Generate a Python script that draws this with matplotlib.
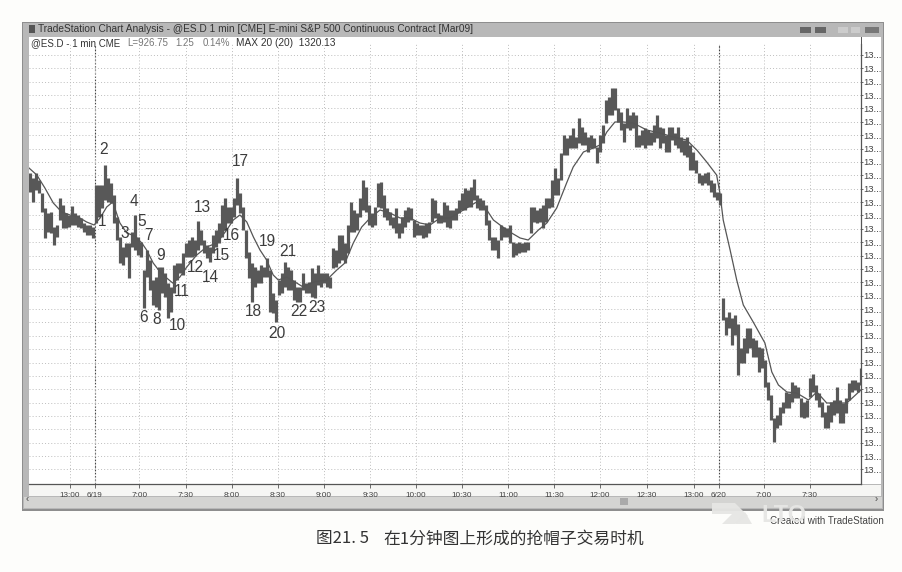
import numpy as np
import matplotlib
matplotlib.use("Agg")
import matplotlib.pyplot as plt
from matplotlib.patches import Rectangle, Polygon

plt.rcParams.update({"font.family": ["Liberation Sans", "DejaVu Sans"]})

# ES quotes, as quarter-point ticks above 1300, one pair per 2-minute group
high_ticks = [
    311, 306, 311, 304, 291, 276, 271, 272, 257, 259, 286, 279, 271, 269, 278, 271, 269, 266, 261, 259,
    259, 257, 299, 299, 299, 319, 306, 301, 289, 267, 247, 237, 241, 241, 252, 269, 247, 242, 214, 234,
    224, 204, 207, 217, 217, 211, 201, 197, 219, 221, 221, 231, 241, 244, 247, 244, 263, 254, 244, 239,
    237, 249, 254, 261, 279, 286, 277, 277, 286, 306, 291, 277, 254, 232, 221, 217, 214, 219, 217, 226,
    214, 191, 184, 204, 211, 222, 217, 214, 204, 197, 197, 211, 201, 202, 216, 211, 219, 211, 211, 211,
    207, 236, 234, 249,
    249, 241, 259, 282, 274, 271, 286, 304, 297, 279, 271, 277, 301, 302, 289, 276, 272, 267, 276, 261,
    267, 274, 277, 276, 264, 261, 259, 259, 261, 262, 286, 284, 271, 269, 282, 279, 274, 274, 276, 284,
    291, 296, 294, 297, 305, 289, 286, 284, 279, 264, 247, 247, 244, 259, 257, 256, 259, 242, 241, 242,
    241, 242, 242, 277, 277, 274, 276, 279, 286, 286, 304, 316, 306, 331,
    349, 346, 349, 356, 347, 366, 357, 352, 347, 349, 346, 337, 349, 359, 384, 387, 396, 396, 376, 372,
    361, 376, 369, 372, 369, 349, 354, 356, 354, 352, 359, 369, 357, 356, 349, 357, 357, 351, 357, 347,
    344, 347, 339, 332, 324, 311, 309, 311, 312, 304, 301, 292, 291,
    186, 167, 172, 166, 169, 160, 136, 146, 156, 156, 146, 144, 137, 136, 124, 102, 89, 66, 69, 77,
    82, 92, 91, 102, 99, 97, 86, 82, 84, 106, 110, 99, 91, 82, 72, 79, 82, 84, 97, 84,
    81, 86, 101, 104, 104, 102, 116,
]
low_ticks = [
    292, 282, 294, 291, 272, 246, 252, 251, 239, 247, 264, 256, 256, 257, 259, 259, 257, 256, 252, 249,
    249, 246, 261, 267, 276, 284, 282, 281, 261, 244, 221, 219, 227, 206, 237, 234, 229, 227, 176, 207,
    194, 179, 177, 174, 191, 187, 166, 172, 191, 204, 211, 209, 227, 227, 227, 228, 234, 239, 231, 226,
    222, 231, 237, 241, 247, 254, 261, 261, 267, 279, 271, 254, 226, 206, 182, 197, 201, 201, 207, 207,
    172, 171, 162, 189, 191, 197, 194, 194, 184, 182, 182, 194, 191, 191, 187, 186, 199, 197, 201, 197,
    196, 216, 217, 221,
    224, 221, 231, 252, 252, 254, 267, 274, 272, 259, 257, 259, 277, 276, 267, 264, 259, 256, 251, 246,
    251, 257, 262, 264, 247, 249, 249, 246, 247, 251, 262, 266, 261, 261, 262, 257, 256, 264, 264, 271,
    274, 274, 277, 277, 284, 276, 274, 274, 259, 244, 234, 234, 226, 244, 247, 247, 241, 227, 229, 231,
    232, 232, 234, 251, 262, 261, 262, 256, 262, 276, 277, 289, 289, 304,
    329, 329, 336, 336, 336, 341, 339, 339, 332, 336, 336, 321, 332, 341, 361, 369, 369, 374, 362, 354,
    342, 356, 354, 356, 337, 337, 339, 336, 339, 339, 342, 346, 336, 341, 332, 332, 344, 339, 336, 332,
    329, 327, 314, 314, 311, 301, 299, 301, 299, 292, 287, 284, 279,
    164, 149, 156, 139, 149, 109, 121, 121, 131, 136, 127, 127, 112, 116, 97, 84, 64, 42, 56, 59,
    71, 76, 76, 82, 86, 86, 67, 66, 67, 87, 92, 84, 77, 67, 56, 56, 62, 69, 71, 61,
    61, 71, 84, 92, 94, 92, 99,
]

# 20 period moving average, same units, taken at the bends of the line
ma_bar = [
    0, 2.6, 5.3, 8.1, 10.9, 13.7, 16.4, 19.2, 21.7, 23.7, 25.9, 27.9, 30.3, 32.6, 35.3, 37.6, 39.2, 41.4,
    43.7, 45.9, 47.9, 50.3, 52.6, 55.9, 59.2, 62.6, 65.9, 68.1, 70.3, 72.6, 74.8, 77, 79.2, 81.4, 83.1,
    85.9, 89.2, 91.4, 94.8, 99.2, 102.6, 105.3, 108.1, 110.9, 113.7, 117, 120.3, 123.7, 127, 130.3, 133.7,
    137, 140.3, 144.8, 149.2, 152.6, 154.8, 157, 160.3, 163.7, 166.4, 169.8, 172.6, 175.9, 179.2, 181.4,
    184.8, 188.1, 190.3, 192.6, 195.3, 198.1, 201.4, 205.9, 210.3, 214.8, 219.2, 222.6, 225.9, 229.2,
    230.3, 231.4, 233.7, 235.9, 238.1, 241.4, 245.3, 247.6, 249.8, 252.6, 255.9, 259.8, 262.6, 265.9,
    268.1, 272.6, 277.3,
]
ma_ticks = [
    316, 309, 296, 281, 272, 269, 267, 262, 259, 266, 277, 282, 261, 251, 248, 241, 234, 221,
    212, 206, 201, 207, 217, 229, 237, 241, 254, 264, 269, 262, 247, 234, 224, 209, 204,
    207, 201, 197, 202, 204, 214, 221, 241, 257, 266, 274, 271, 266, 266, 261, 259,
    266, 266, 274, 282, 274, 264, 259, 252, 246, 244, 254, 261, 276, 301, 317,
    332, 336, 339, 352, 362, 362, 361, 354, 351, 347, 344, 334, 322, 309,
    291, 264, 234, 204, 179, 162, 141, 112, 99, 92, 91, 84, 92, 81,
    81, 81, 94,
]

time_labels = ["13:00", "6/19", "7:00", "7:30", "8:00", "8:30", "9:00", "9:30", "10:00", "10:30",
               "11:00", "11:30", "12:00", "12:30", "13:00", "6/20", "7:00", "7:30"]
time_pos = [13.7, 21.9, 36.8, 52.2, 67.6, 82.9, 98.2, 113.7, 129, 144.3,
            159.7, 175, 190.3, 205.9, 221.7, 230, 245, 260.3]
session_pos = [21.9, 230]

trade_labels = ["1", "2", "3", "4", "5", "6", "7", "8", "9", "10", "11", "12",
                "13", "14", "15", "16", "17", "18", "19", "20", "21", "22", "23"]
trade_x = [102, 104, 125, 134, 142, 144, 149, 157, 161, 177, 182, 195,
           202, 210, 221, 231, 240, 253, 267, 277, 288, 299, 317]
trade_y = [222, 149, 233, 201, 222, 318, 236, 319, 255, 326, 291, 268,
           208, 278, 255, 235, 161, 312, 241, 333, 251, 312, 307]

W, H = 903, 572
fig = plt.figure(figsize=(W/100, H/100), dpi=100, facecolor="#fdfdfb")

# window chrome, drawn in picture pixels
bg = fig.add_axes([0, 0, 1, 1], zorder=0)
bg.set_xlim(0, W); bg.set_ylim(H, 0); bg.axis("off")

def rect(x0, y0, x1, y1, fc, z=1):
    bg.add_patch(Rectangle((x0, y0), x1-x0, y1-y0, fc=fc, ec="none", zorder=z))

rect(22, 22, 884, 511, "#8e8e8e")
rect(23, 23, 883, 509, "#b8b8b8")
rect(29, 37, 881, 484, "#ffffff", 2)
rect(29, 485, 881, 496, "#f6f6f4", 2)
rect(24, 497, 882, 508, "#d4d4d2", 2)
rect(861, 37, 862, 45, "#555555", 3)
rect(29, 25, 35, 33, "#555555", 3)
rect(620, 498, 628, 505, "#aaaaaa", 3)
for x0, x1, c in [(800, 811, "#666666"), (815, 826, "#666666"), (838, 848, "#cccccc"),
                  (851, 860, "#cccccc"), (865, 879, "#777777")]:
    rect(x0, 27, x1, 33, c, 3)
bg.text(38, 29.5, "TradeStation Chart Analysis - @ES.D 1 min [CME] E-mini S&P 500 Continuous Contract [Mar09]",
        fontsize=7.25, color="#333333", va="center", zorder=4)
bg.text(31, 43.5, "@ES.D - 1 min CME", fontsize=7.0, color="#333333", va="center", zorder=4)
bg.text(127, 43.5, "L=926.75", fontsize=7.0, color="#777777", va="center", zorder=4)
bg.text(175, 43.5, "1.25", fontsize=7.0, color="#777777", va="center", zorder=4)
bg.text(203, 43.5, "0.14%", fontsize=7.0, color="#777777", va="center", zorder=4)
bg.text(236, 43.5, "MAX 20 (20)  1320.13", fontsize=7.3, color="#333333", va="center", zorder=4)
bg.text(26, 499, "‹", fontsize=7, color="#444444", va="center", zorder=4)
bg.text(875, 499, "›", fontsize=7, color="#444444", va="center", zorder=4)

# price pane
ax = fig.add_axes([29/W, 1 - 484/H, (861-29)/W, (484-44)/H], zorder=2)
ax.patch.set_alpha(0)
highs = 1300 + 0.25*np.array(high_ticks)
lows = 1300 + 0.25*np.array(low_ticks)
ma = 1300 + 0.25*np.array(ma_ticks)
y_ticks = 1407.25 - 3.3425*np.arange(32)

ax.set_xlim(0, 277.33)
ax.set_ylim(1300, 1410)
ax.yaxis.tick_right()
ax.set_yticks(y_ticks)
ax.set_yticklabels(["13..."]*len(y_ticks), fontsize=6.8, color="#444444")
ax.set_xticks(time_pos)
ax.set_xticklabels(time_labels, fontsize=5.9, color="#444444")
ax.tick_params(axis="x", length=3, width=0.6, color="#555555", pad=3)
ax.tick_params(axis="y", length=1.5, width=0.6, color="#555555", pad=0.5)
ax.grid(True, color="#bdbdbd", lw=0.7, ls=(0, (1, 2.2)), zorder=0)
for s in ["top", "left"]:
    ax.spines[s].set_visible(False)
for s in ["right", "bottom"]:
    ax.spines[s].set_color("#555555")
    ax.spines[s].set_linewidth(0.9)

for s in session_pos:
    ax.axvline(s, color="#444444", lw=0.8, ls=(0, (1.5, 1.5)), zorder=1)

ax.vlines(np.arange(len(high_ticks)) + 0.25, lows, highs, color="#585858", lw=2.3, zorder=3)
ax.plot(ma_bar, ma, color="#555555", lw=0.9, zorder=4)

# labels belong over the bars
top = fig.add_axes([0, 0, 1, 1], zorder=3)
top.set_xlim(0, W); top.set_ylim(H, 0); top.axis("off")
for t, x, y in zip(trade_labels, trade_x, trade_y):
    top.text(x, y, t, fontsize=11.2, color="#3c3c3c", ha="center", va="center")

# caption, credit and the faint watermark over it
top.text(316, 539, "图21. 5", fontsize=12, color="#333333", va="center",
         family=["Noto Sans CJK SC", "DejaVu Sans"])
top.text(383, 539, "在1分钟图上形成的抢帽子交易时机", fontsize=12.1, color="#333333", va="center",
         family=["Noto Sans CJK SC", "DejaVu Sans"])
top.text(884, 520.5, "Created with TradeStation", fontsize=7.1, color="#444444", ha="right", va="center")
top.add_patch(Polygon([(712, 503), (735, 503), (748, 516), (735, 524), (722, 524), (732, 514), (712, 514)],
                      fc="#e6e6e4", ec="none", alpha=0.95))
top.add_patch(Polygon([(735, 524), (745, 512), (752, 524)], fc="#e6e6e4", ec="none", alpha=0.95))
top.text(784, 515, "LTO", fontsize=17, fontweight="bold", color="#e6e6e4", ha="center", va="center", alpha=0.95)

fig.savefig("out.png", dpi=100, facecolor=fig.get_facecolor())
